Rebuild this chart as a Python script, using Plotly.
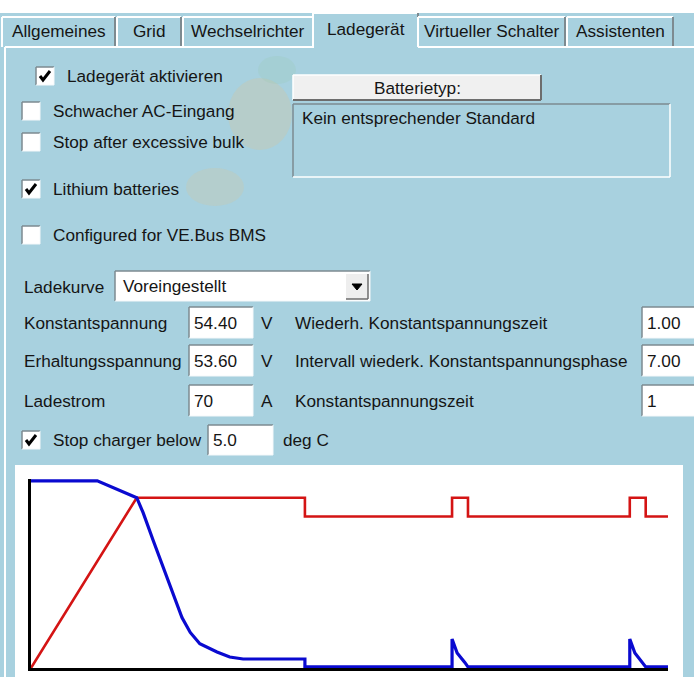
import plotly.graph_objects as go

# ---------------- data ----------------
# charge curve (time in % of window, value in % of full scale)
red_x = [0, 16.6, 43.0, 43.0, 66.1, 66.1, 68.6, 68.6, 94.0, 94.0, 96.5, 96.5, 100]
red_y = [0, 91, 91, 81, 81, 91, 91, 81, 81, 91, 91, 81, 81]
blue_x = [0, 10.4, 16.6, 17.6, 19.2, 20.7, 22.3, 23.7, 25.0, 26.5, 29.2, 31.2, 33.3, 43.0, 43.0,
          66.1, 66.1, 66.9, 68.1, 68.6, 94.0, 94.0, 94.8, 96.0, 96.5, 100]
blue_y = [100, 100, 91, 83, 68, 54, 40, 27, 19, 13, 8.6, 5.9, 4.8, 4.8, 0.6,
          0.6, 15.5, 8, 3, 0.6, 0.6, 15.5, 8, 3, 0.6, 0.6]

tabs = ["Allgemeines", "Grid", "Wechselrichter", "Ladegerät", "Virtueller Schalter", "Assistenten"]
active_tab = "Ladegerät"
checkboxes = ["Ladegerät aktivieren", "Schwacher AC-Eingang", "Stop after excessive bulk",
              "Lithium batteries", "Configured for VE.Bus BMS", "Stop charger below"]
checked = [True, False, False, True, False, True]
left_labels = ["Konstantspannung", "Erhaltungsspannung", "Ladestrom"]
left_values = ["54.40", "53.60", "70"]
left_units = ["V", "V", "A"]
right_labels = ["Wiederh. Konstantspannungszeit", "Intervall wiederk. Konstantspannungsphase",
                "Konstantspannungszeit"]
right_values = ["1.00", "7.00", "1"]
curve_label = "Ladekurve"
curve_value = "Voreingestellt"
battery_button = "Batterietyp:"
battery_text = "Kein entsprechender Standard"
temp_value = "5.0"
temp_unit = "deg C"

# ---------------- style / layout ----------------
W, H = 694, 677
PANEL = "#a8d1df"
FONT = "Liberation Sans, Arial, sans-serif"
FS = 17.2
DARK = "#7d8a90"

shapes = []
annots = []


def rect(x0, y0, x1, y1, fill=None, line=None, lw=1):
    shapes.append(dict(type="rect", xref="x", yref="y", x0=x0, y0=y0, x1=x1, y1=y1,
                       fillcolor=fill if fill else "rgba(0,0,0,0)",
                       line=dict(color=line if line else "rgba(0,0,0,0)", width=lw if line else 0),
                       layer="below"))


def seg(x0, y0, x1, y1, color, w=1):
    shapes.append(dict(type="line", xref="x", yref="y", x0=x0, y0=y0, x1=x1, y1=y1,
                       line=dict(color=color, width=w), layer="below"))


def text(x, y, s, anchor="left", size=FS):
    annots.append(dict(x=x, y=y, xref="x", yref="y", text=s, showarrow=False,
                       xanchor=anchor, yanchor="middle",
                       font=dict(family=FONT, size=size, color="#151515")))


def sunken(x0, y0, x1, y1, fill="white"):
    rect(x0, y0, x1, y1, fill=fill)
    seg(x0, y0, x1, y0, DARK, 1.5)
    seg(x0, y0, x0, y1, DARK, 1.5)
    seg(x0, y1, x1, y1, "#f4f8fa", 1)
    seg(x1, y0, x1, y1, "#f4f8fa", 1)


def checkbox(x, y, on):
    sunken(x, y - 9, x + 18, y + 9)
    if on:
        shapes.append(dict(type="path", xref="x", yref="y",
                           path=f"M {x+4},{y} L {x+7},{y+4} L {x+14},{y-5}",
                           line=dict(color="black", width=3), layer="below"))


# faint background watermark
shapes.append(dict(type="circle", xref="x", yref="y", x0=228, y0=78, x1=292, y1=150,
                   fillcolor="rgba(225,195,140,0.25)", line=dict(width=0), layer="below"))
shapes.append(dict(type="circle", xref="x", yref="y", x0=186, y0=168, x1=244, y1=206,
                   fillcolor="rgba(225,195,140,0.22)", line=dict(width=0), layer="below"))
shapes.append(dict(type="circle", xref="x", yref="y", x0=258, y0=56, x1=296, y1=84,
                   fillcolor="rgba(150,200,170,0.2)", line=dict(width=0), layer="below"))

# top white strip
rect(0, 0, W, 13, fill="white")

# tabs
tab_edges = [(2, 115), (117, 181), (183, 313), (315, 416), (418, 565), (567, 673)]
for name, (a, b) in zip(tabs, tab_edges):
    if name == active_tab:
        rect(a - 2, 13, b + 2, 48, fill=PANEL)
        seg(a - 2, 13, b + 2, 13, "white", 2)
        seg(a - 2, 13, a - 2, 48, "white", 2)
        seg(b + 2, 13, b + 2, 47, DARK, 2)
        text((a + b) / 2, 29, name, anchor="center")
    else:
        rect(a, 17, b, 47, fill=PANEL)
        seg(a, 17, b, 17, "white", 2)
        seg(a, 17, a, 47, "white", 2)
        seg(b, 17, b, 46, DARK, 2)
        text((a + b) / 2, 31, name, anchor="center")

# panel border
seg(5, 47, 313, 47, "white", 2)
seg(418, 47, W, 47, "white", 2)
seg(5, 47, 5, H, "white", 2)

# checkboxes
cb_pos = [(36, 76), (22, 111), (22, 142), (22, 189), (22, 235), (22, 440)]
for lbl, on, (cx, cy) in zip(checkboxes, checked, cb_pos):
    checkbox(cx, cy, on)
    text(cx + 29, cy, lbl)

# battery type button + text box
rect(293, 75, 541, 100, fill="#f0f0f0")
seg(293, 75, 541, 75, "white", 1.5)
seg(293, 75, 293, 100, "white", 1.5)
seg(293, 100, 541, 100, "#6d6d6d", 2)
seg(541, 75, 541, 100, "#6d6d6d", 2)
text(417, 88, battery_button, anchor="center")
seg(293, 104, 670, 104, DARK, 1.5)
seg(293, 104, 293, 177, DARK, 1.5)
seg(293, 177, 670, 177, "white", 1.5)
seg(670, 104, 670, 177, "white", 1.5)
text(300, 118, battery_text)

# Ladekurve combobox
text(22, 287, curve_label)
sunken(115, 271, 370, 301)
rect(346, 274, 368, 299, fill="#eeeeee")
seg(368, 274, 368, 299, "#6d6d6d", 1.5)
seg(346, 299, 368, 299, "#6d6d6d", 1.5)
shapes.append(dict(type="path", xref="x", yref="y", path="M 352,284 L 362,284 L 357,290 Z",
                   fillcolor="black", line=dict(color="black", width=1), layer="below"))
text(121, 286, curve_value)

# parameter rows
row_y = [323, 361, 401]
for ry, ll, lv, lu, rl, rv in zip(row_y, left_labels, left_values, left_units, right_labels, right_values):
    text(22, ry, ll)
    sunken(189, ry - 16, 253, ry + 15)
    text(192, ry, lv)
    text(259, ry, lu)
    text(293, ry, rl)
    sunken(642, ry - 16, 700, ry + 15)
    text(645, ry, rv)

# temperature
sunken(208, 425, 273, 455)
text(211, 440, temp_value)
text(281, 440, temp_unit)

# chart white area
rect(15, 465, 683, H + 2, fill="white")

fig = go.Figure()
fig.add_trace(go.Scatter(x=red_x, y=red_y, mode="lines", line=dict(color="#d41414", width=2.6),
                         xaxis="x2", yaxis="y2", hoverinfo="skip", showlegend=False))
fig.add_trace(go.Scatter(x=blue_x, y=blue_y, mode="lines", line=dict(color="#0a0ad0", width=3.2),
                         xaxis="x2", yaxis="y2", hoverinfo="skip", showlegend=False))

fig.update_layout(
    width=W, height=H, margin=dict(l=0, r=0, t=0, b=0),
    paper_bgcolor=PANEL, plot_bgcolor="rgba(0,0,0,0)",
    showlegend=False,
    xaxis=dict(range=[0, W], domain=[0, 1], visible=False, fixedrange=True),
    yaxis=dict(range=[H, 0], domain=[0, 1], visible=False, fixedrange=True),
    xaxis2=dict(domain=[31 / W, 668 / W], range=[0, 100], anchor="y2",
                showline=True, linecolor="black", linewidth=3, showgrid=False,
                zeroline=False, showticklabels=False, ticks="", layer="below traces"),
    yaxis2=dict(domain=[(H - 668) / H, (H - 479) / H], range=[0, 101], anchor="x2",
                showline=True, linecolor="black", linewidth=3, showgrid=False,
                zeroline=False, showticklabels=False, ticks="", layer="below traces"),
    shapes=shapes, annotations=annots,
)

fig.write_html("out.html", config={"displayModeBar": False},
               post_script="document.body.style.margin='0px';document.body.style.overflow='hidden';")
